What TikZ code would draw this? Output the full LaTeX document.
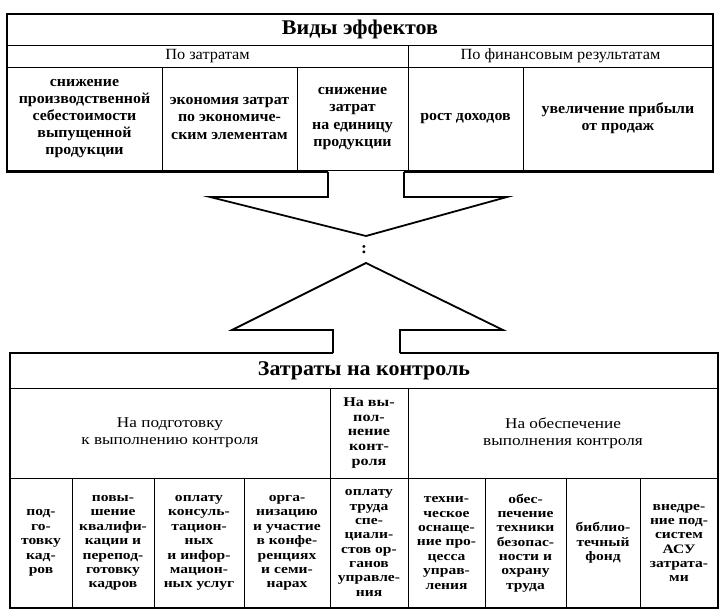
\documentclass[tikz,border=0pt]{standalone}
\usepackage{fontspec}
\setmainfont{Liberation Serif}[FakeStretch=1.05]
\newfontfamily\cellfam{Liberation Serif}[FakeStretch=1.2]
\newfontfamily\subfam{Liberation Serif}[FakeStretch=1.15]
\newcommand\titlefnt{\fontsize{21}{22}\selectfont\bfseries}
\newcommand\hdrfnt{\fontsize{15.6}{17.3}\selectfont}
\newcommand\subfnt{\subfam\fontsize{15}{16.7}\selectfont}
\newcommand\topfnt{\fontsize{15.2}{17.2}\selectfont\bfseries}
\newcommand\cellfnt{\cellfam\bfseries\fontsize{13}{14.4}\selectfont}
\newcommand\midfnt{\cellfam\bfseries\fontsize{13.5}{15}\selectfont}
\begin{document}
\begin{tikzpicture}[x=1bp,y=-1bp,
  cellbox/.style={draw, line width=0.8bp, rectangle, inner sep=1bp, align=center, anchor=center},
  plainbox/.style={rectangle, inner sep=1bp, align=center, anchor=center},
  outer/.style={line width=1.8bp, line join=miter},
  blockarrow/.style={line width=1.8bp, line join=miter, miter limit=20}]
\useasboundingbox (0,0) rectangle (722,611);
% ---------- top table
\node[cellbox, minimum width=706bp, minimum height=31bp, font=\titlefnt] (vt) at (360,29.5) {Виды эффектов};
\node[cellbox, minimum width=401bp, minimum height=22bp, font=\hdrfnt] (pz) at (207.5,56) {По затратам};
\node[cellbox, minimum width=305bp, minimum height=22bp, font=\hdrfnt] (pf) at (560.5,56) {По финансовым результатам};
\node[cellbox, minimum width=155bp, minimum height=103bp, font=\topfnt] (c1) at (84.5,118.5) {снижение\\производственной\\себестоимости\\выпущенной\\продукции};
\node[cellbox, minimum width=135bp, minimum height=103bp, font=\topfnt] (c2) at (229.5,118.5) {экономия затрат\\по экономиче-\\ским элементам};
\node[cellbox, minimum width=111bp, minimum height=103bp, font=\topfnt] (c3) at (352.5,118.5) {снижение\\затрат\\на единицу\\продукции};
\node[cellbox, minimum width=115bp, minimum height=103bp, font=\topfnt] (c4) at (465.5,118.5) {рост доходов};
\node[cellbox, minimum width=190bp, minimum height=103bp, font=\topfnt] (c5) at (618,118.5) {увеличение прибыли\\от продаж};
\draw[outer] (328,172) -- (7,172) -- (7,14) -- (713,14) -- (713,172) -- (404,172);
% ---------- arrows
\draw[blockarrow] (328,172) -- (328,197) -- (210,197) -- (366,236) -- (507,197) -- (404,197) -- (404,172);
\node[plainbox, font=\fontsize{17}{17}\selectfont\bfseries] (colon) at (364,250) {:};
\draw[blockarrow] (333,353) -- (333,330) -- (232,330) -- (366,263) -- (503,330) -- (400,330) -- (400,353);
% ---------- bottom table
\node[plainbox, minimum width=708bp, minimum height=35bp, font=\titlefnt] (zk) at (364,370.5) {Затраты на контроль};
\node[cellbox, minimum width=320bp, minimum height=90bp, font=\subfnt] (h1) at (170,433) {На подготовку\\к выполнению контроля};
\node[cellbox, minimum width=78bp, minimum height=90bp, font=\midfnt] (h2) at (369,433) {На вы-\\пол-\\нение\\конт-\\роля};
\node[cellbox, minimum width=310bp, minimum height=90bp, font=\subfnt] (h3) at (563,433) {На обеспечение\\выполнения контроля};
\node[cellbox, minimum width=62bp, minimum height=130bp, font=\cellfnt] (b1) at (41,543) {под-\\го-\\товку\\кад-\\ров};
\node[cellbox, minimum width=82bp, minimum height=130bp, font=\cellfnt] (b2) at (113,543) {повы-\\шение\\квалифи-\\кации и\\перепод-\\готовку\\кадров};
\node[cellbox, minimum width=90bp, minimum height=130bp, font=\cellfnt] (b3) at (199,543) {оплату\\консуль-\\тацион-\\ных\\и инфор-\\мацион-\\ных услуг};
\node[cellbox, minimum width=86bp, minimum height=130bp, font=\cellfnt] (b4) at (287,543) {орга-\\низацию\\и участие\\в конфе-\\ренциях\\и семи-\\нарах};
\node[cellbox, minimum width=78bp, minimum height=130bp, font=\cellfnt] (b5) at (369,543) {оплату\\труда\\спе-\\циали-\\стов ор-\\ганов\\управле-\\ния};
\node[cellbox, minimum width=77bp, minimum height=130bp, font=\cellfnt] (b6) at (446.5,543) {техни-\\ческое\\оснаще-\\ние про-\\цесса\\управ-\\ления};
\node[cellbox, minimum width=81bp, minimum height=130bp, font=\cellfnt] (b7) at (525.5,543) {обес-\\печение\\техники\\безопас-\\ности и\\охрану\\труда};
\node[cellbox, minimum width=74bp, minimum height=130bp, font=\cellfnt] (b8) at (603,543) {библио-\\течный\\фонд};
\node[cellbox, minimum width=78bp, minimum height=130bp, font=\cellfnt] (b9) at (679,543) {внедре-\\ние под-\\систем\\АСУ\\затрата-\\ми};
\draw[outer] (333,353) -- (10,353) -- (10,608) -- (718,608) -- (718,353) -- (400,353);
\end{tikzpicture}
\end{document}
